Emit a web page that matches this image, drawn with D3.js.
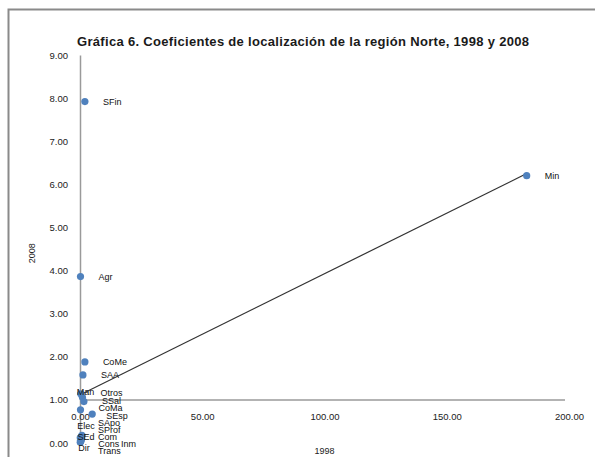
<!DOCTYPE html>
<meta charset="utf-8">
<style>
body { margin: 0; background: #fff; }
svg { font-family: "Liberation Sans", "DejaVu Sans", sans-serif; }
.tick text { font-size: 9.5px; fill: #222; }
.lbl { font-size: 9px; fill: #111; }
</style>
<script src="https://d3js.org/d3.v7.min.js"></script>
<body>
<div id="chart"></div>
<script>

// sector labels and location quotients (x = 1998, y = 2008)
var sectors = ["SFin", "Agr", "CoMe", "SAA", "Man", "Otros", "SSal", "CoMa", "SEsp",
               "SApo", "Elec", "SProf", "Com", "SEd", "Cons", "Trans", "Dir", "Inm", "Min"];
var lq1998 = [2.0, 0.2, 2.0, 1.2, 0.3, 1.0, 1.6, 0.2, 5.0,
              0.8, 0.1, 0.6, 0.4, 0.2, 0.5, 0.3, 0.1, 0.4, 182.7];
var lq2008 = [7.92, 3.86, 1.88, 1.58, 1.14, 1.06, 0.96, 0.77, 0.67,
              0.18, 0.12, 0.10, 0.08, 0.06, 0.15, 0.04, 0.02, 0.05, 6.20];

var xTicks = [0, 50, 100, 150, 200];
var yTicks = [0, 1, 2, 3, 4, 5, 6, 7, 8, 9];

// label nudges for the crowded cluster near the origin
var nudge = {
  "Man": [-4, -2], "Otros": [18, -4.8], "SSal": [18, -1.6], "CoMa": [18, -2.3], "SEsp": [14, 0.9],
  "SApo": [16, -12.7], "SProf": [16.5, -9.2], "Com": [17, -3.1],
  "Cons": [17, 7], "Trans": [17.3, 9.2], "Inm": [40, 2.7],
  "Elec": [-3, -12.3], "SEd": [-3, -3.9], "Dir": [-2, 5.4]
};

var width = 595, height = 457;
var svg = d3.select("#chart").append("svg")
    .attr("width", width)
    .attr("height", height);

// chart frame (runs off the right and bottom edges)
svg.append("rect")
    .attr("x", 8.5).attr("y", 9.5)
    .attr("width", 640).attr("height", 500)
    .attr("fill", "#fff")
    .attr("stroke", "#8a8a8a")
    .attr("stroke-width", 2);

var x = d3.scaleLinear().domain([0, 200]).range([80, 569]);
var y = d3.scaleLinear().domain([0, 9]).range([443, 55]);

// title
svg.append("text")
    .attr("x", 303).attr("y", 46)
    .attr("text-anchor", "middle")
    .attr("textLength", 452)
    .style("font-size", "13px")
    .style("font-weight", "bold")
    .style("fill", "#1a1a1a")
    .text("Gráfica 6. Coeficientes de localización de la región Norte, 1998 y 2008");

// y axis
var yAxis = svg.append("g")
    .attr("transform", "translate(" + x(0) + ",0)")
    .call(d3.axisLeft(y).tickValues(yTicks).tickFormat(d3.format(".2f")).tickSize(0).tickPadding(12));
yAxis.select(".domain").attr("stroke", "#9a9a9a").attr("stroke-width", 1.5);

// x axis crosses at 1.00
var xAxis = svg.append("g")
    .attr("transform", "translate(0," + y(1) + ")")
    .call(d3.axisBottom(x).tickValues(xTicks).tickFormat(d3.format(".2f")).tickSize(0).tickPadding(13));
xAxis.select(".domain").attr("stroke", "#9a9a9a").attr("stroke-width", 1.5).attr("d", "M" + x(0) + ",0H" + (x(200) - 4));

// axis titles
svg.append("text")
    .attr("transform", "translate(35," + y(4.4) + ") rotate(-90)")
    .attr("text-anchor", "middle")
    .style("font-size", "9px").style("fill", "#222")
    .text("2008");
svg.append("text")
    .attr("x", x(100)).attr("y", 454)
    .attr("text-anchor", "middle")
    .style("font-size", "9px").style("fill", "#222")
    .text("1998");

// linear trendline (least squares, spans the x range of the data)
var n = lq1998.length;
var mx = d3.mean(lq1998), my = d3.mean(lq2008);
var sxy = 0, sxx = 0;
for (var i = 0; i < n; i++) {
  sxy += (lq1998[i] - mx) * (lq2008[i] - my);
  sxx += (lq1998[i] - mx) * (lq1998[i] - mx);
}
var slope = sxy / sxx, icpt = my - slope * mx;
var x0 = d3.min(lq1998), x1 = d3.max(lq1998);
svg.append("line")
    .attr("x1", x(x0)).attr("y1", y(icpt + slope * x0))
    .attr("x2", x(x1)).attr("y2", y(icpt + slope * x1))
    .attr("stroke", "#333")
    .attr("stroke-width", 1.2);

var pts = sectors.map(function(s, i) { return { name: s, a: lq1998[i], b: lq2008[i] }; });

svg.append("g").selectAll("circle")
    .data(pts)
    .enter().append("circle")
    .attr("cx", function(d) { return x(d.a); })
    .attr("cy", function(d) { return y(d.b); })
    .attr("r", 3.6)
    .attr("fill", "#4f81bd");

svg.append("g").selectAll("text")
    .data(pts)
    .enter().append("text")
    .attr("class", "lbl")
    .attr("x", function(d) { var o = nudge[d.name] || [18, 0]; return x(d.a) + o[0]; })
    .attr("y", function(d) { var o = nudge[d.name] || [18, 0]; return y(d.b) + o[1] + 3.5; })
    .text(function(d) { return d.name; });

</script>
</body>
